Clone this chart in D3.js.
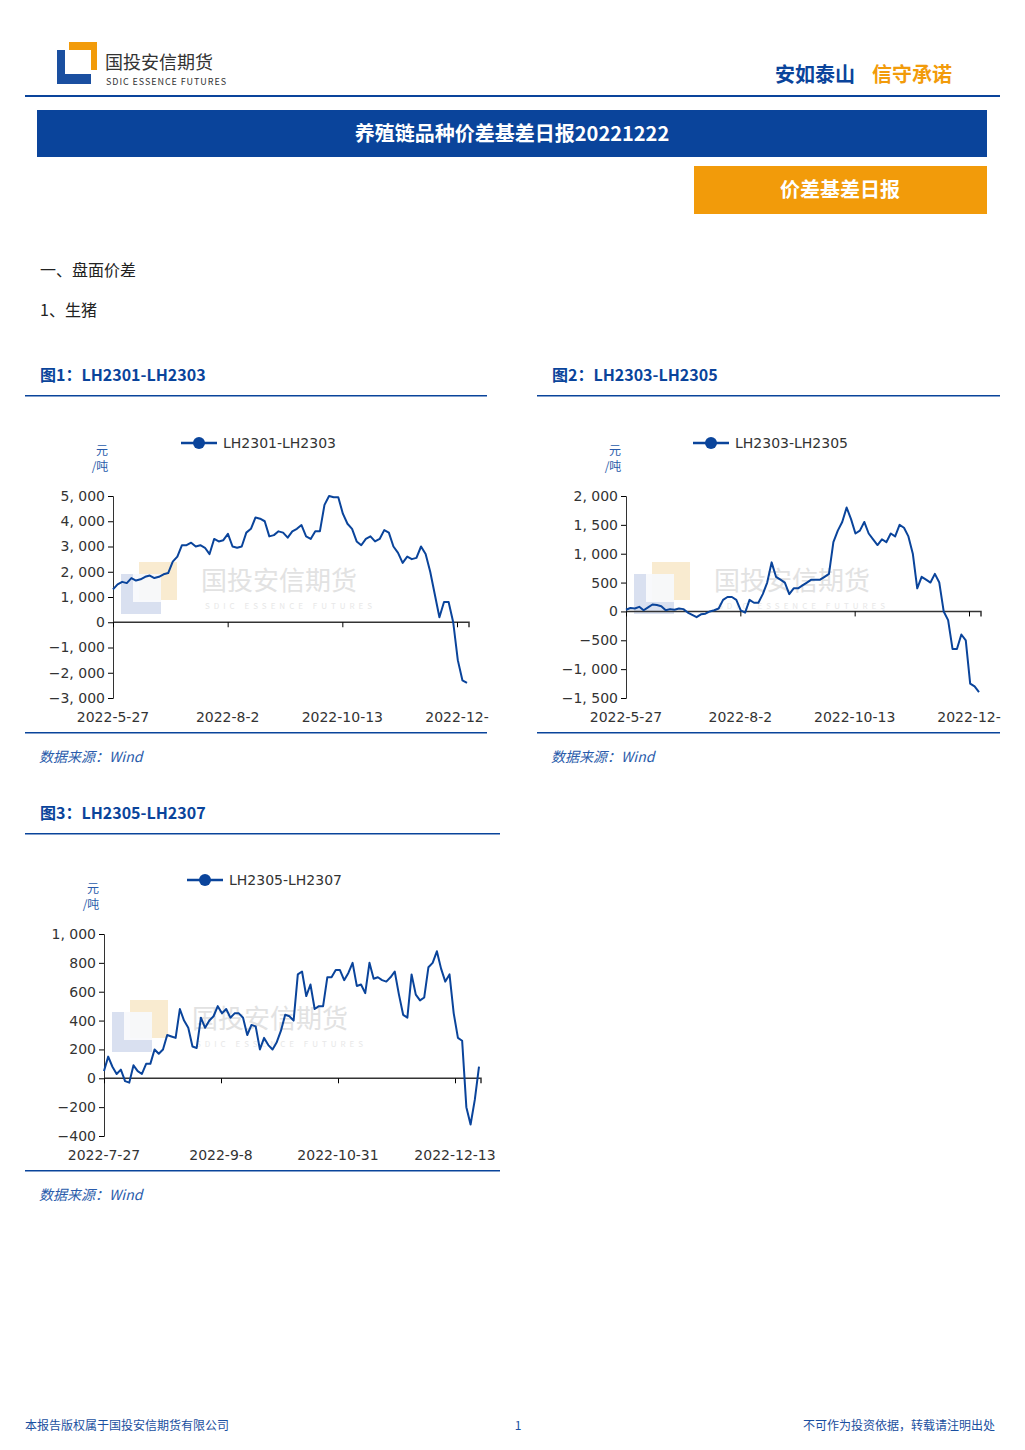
<!DOCTYPE html>
<html><head><meta charset="utf-8">
<script src="https://cdn.jsdelivr.net/npm/d3@7"></script>
<style>body{margin:0;background:#fff;font-family:"Noto Sans CJK SC","DejaVu Sans",sans-serif}</style>
</head><body><svg id="c" width="1025" height="1450"></svg>
<script>
const s1Name="LH2301-LH2303", s2Name="LH2303-LH2305", s3Name="LH2305-LH2307";
const s1Values=[1300,1500,1600,1550,1750,1650,1700,1800,1850,1750,1800,1900,1950,2400,2600,3050,3050,3150,3000,3050,2950,2700,3300,3200,3250,3500,3000,2950,3000,3550,3700,4150,4100,4000,3400,3450,3600,3550,3350,3600,3700,3850,3400,3300,3600,3600,4650,5000,4950,4950,4300,3900,3700,3200,3050,3300,3400,3200,3300,3650,3550,3000,2750,2350,2600,2500,2550,3000,2700,2000,1100,200,800,800,0,-1500,-2300,-2400];
const s2Values=[30,60,50,80,20,70,120,110,90,20,40,30,50,40,-20,-60,-100,-50,-40,0,20,50,200,250,250,200,20,-20,200,150,150,300,500,850,600,550,500,300,400,400,450,500,550,550,550,600,650,1200,1400,1550,1800,1600,1350,1400,1550,1350,1250,1150,1250,1200,1350,1300,1500,1450,1300,1000,400,600,550,500,650,500,0,-150,-650,-650,-400,-500,-1250,-1300,-1400];
const s3Values=[50,150,80,30,60,-20,-30,90,50,30,100,100,200,170,200,300,290,280,480,400,350,220,210,420,350,400,430,500,450,480,420,450,450,420,300,370,360,200,280,230,200,250,330,440,430,400,720,740,570,650,480,500,500,700,700,750,750,680,730,800,640,650,590,800,690,700,680,670,700,740,580,440,420,720,580,540,560,770,800,880,760,670,720,450,280,260,-200,-320,-150,80];
const dates12=["2022-5-27","2022-8-2","2022-10-13","2022-12-"];
const dates3=["2022-7-27","2022-9-8","2022-10-31","2022-12-13"];
const ticks1=[5000,4000,3000,2000,1000,0,-1000,-2000,-3000];
const ticks2=[2000,1500,1000,500,0,-500,-1000,-1500];
const ticks3=[1000,800,600,400,200,0,-200,-400];

const svg=d3.select("#c");
const BLUE="#0a449b", ORANGE="#f29b0a";
svg.append("rect").attr("x",57).attr("y",50).attr("width",34).attr("height",34).attr("fill","#1a4fa0");
svg.append("rect").attr("x",65).attr("y",50).attr("width",26).attr("height",24).attr("fill","#fff");
svg.append("rect").attr("x",69).attr("y",42).attr("width",28).attr("height",28).attr("fill",ORANGE);
svg.append("rect").attr("x",69).attr("y",50).attr("width",22).attr("height",20).attr("fill","#fff");
svg.append("text").attr("x",105).attr("y",69).attr("font-size",18).attr("fill","#333").text("国投安信期货");
svg.append("text").attr("x",106).attr("y",85).attr("font-size",9).attr("fill","#333").attr("textLength",120).text("SDIC ESSENCE FUTURES");
svg.append("text").attr("x",775).attr("y",82).attr("font-size",20).attr("font-weight","bold").attr("fill",BLUE).text("安如泰山");
svg.append("text").attr("x",872).attr("y",82).attr("font-size",20).attr("font-weight","bold").attr("fill",ORANGE).text("信守承诺");
svg.append("rect").attr("x",25).attr("y",95).attr("width",975).attr("height",2).attr("fill",BLUE);
svg.append("rect").attr("x",37).attr("y",110).attr("width",950).attr("height",47).attr("fill",BLUE);
svg.append("text").attr("x",512).attr("y",141).attr("text-anchor","middle").attr("font-size",20).attr("font-weight","bold").attr("fill","#fff").text("养殖链品种价差基差日报20221222");
svg.append("rect").attr("x",694).attr("y",166).attr("width",293).attr("height",48).attr("fill",ORANGE);
svg.append("text").attr("x",840).attr("y",197).attr("text-anchor","middle").attr("font-size",20).attr("font-weight","bold").attr("fill","#fff").text("价差基差日报");
svg.append("text").attr("x",40).attr("y",276).attr("font-size",16).attr("fill","#222").text("一、盘面价差");
svg.append("text").attr("x",40).attr("y",316).attr("font-size",16).attr("fill","#222").text("1、生猪");
svg.append("text").attr("x",25).attr("y",1430).attr("font-size",12).attr("fill","#1a4fa0").text("本报告版权属于国投安信期货有限公司");
svg.append("text").attr("x",518).attr("y",1430).attr("font-size",12).attr("fill","#1a4fa0").attr("text-anchor","middle").text("1");
svg.append("text").attr("x",995).attr("y",1430).attr("font-size",12).attr("fill","#1a4fa0").attr("text-anchor","end").text("不可作为投资依据，转载请注明出处");

const fmt=d3.format(",");
function chart(o){
  const g=svg.append("g");
  g.append("text").attr("x",o.x0+15).attr("y",o.titleY).attr("font-size",16).attr("font-weight","bold").attr("fill",BLUE).text(o.title);
  g.append("rect").attr("x",o.x0).attr("y",o.titleY+14).attr("width",o.w).attr("height",1.5).attr("fill",BLUE);
  g.append("rect").attr("x",o.x0).attr("y",o.bottomY).attr("width",o.w).attr("height",1.5).attr("fill",BLUE);
  g.append("text").attr("x",o.x0+14).attr("y",o.bottomY+30).attr("font-size",14).attr("font-style","italic").attr("fill","#2a5cab").text("数据来源：Wind");
  const wx=o.left+20, wy=o.wmY;
  g.append("rect").attr("x",wx+6).attr("y",wy-16).attr("width",38).attr("height",38).attr("fill","#f8e6c4").attr("opacity",0.8);
  g.append("rect").attr("x",wx-12).attr("y",wy-4).attr("width",40).attr("height",40).attr("fill","#c9d3ea").attr("opacity",0.7);
  g.append("rect").attr("x",wx).attr("y",wy-4).attr("width",28).attr("height",28).attr("fill","#fff").attr("opacity",0.8);
  g.append("text").attr("x",wx+68).attr("y",wy+12).attr("font-size",26).attr("fill","#e2e2e2").text("国投安信期货");
  g.append("text").attr("x",wx+72).attr("y",wy+31).attr("font-size",8).attr("fill","#e8e8e8").attr("letter-spacing",4).text("SDIC ESSENCE FUTURES");
  g.append("line").attr("x1",o.legX).attr("x2",o.legX+36).attr("y1",o.legY).attr("y2",o.legY).attr("stroke",BLUE).attr("stroke-width",2.5);
  g.append("circle").attr("cx",o.legX+18).attr("cy",o.legY).attr("r",6).attr("fill",BLUE);
  g.append("text").attr("x",o.legX+42).attr("y",o.legY+5).attr("font-size",14).attr("fill","#333").attr("font-family","DejaVu Sans").text(o.name);
  g.append("text").attr("x",o.left-11).attr("y",o.top-41).attr("font-size",12).attr("fill","#2a5cab").attr("text-anchor","middle").text("元");
  g.append("text").attr("x",o.left-13).attr("y",o.top-25).attr("font-size",12).attr("fill","#2a5cab").attr("text-anchor","middle").text("/吨");
  const y=d3.scaleLinear().domain(o.domain).range([o.bottom,o.top]);
  const x=d3.scaleLinear().domain([0,o.vals.length-1]).range([o.left,o.lineEnd]);
  const ya=g.append("g").attr("transform",`translate(${o.left},0)`).call(d3.axisLeft(y).tickValues(o.ticks).tickSize(5).tickFormat(d=>fmt(d).replace(",",", ").replace("-","−")));
  ya.select(".domain").attr("stroke","#333");
  ya.selectAll("text").attr("font-size",14).attr("fill","#333").attr("font-family","DejaVu Sans");
  const xs=d3.scalePoint().domain(o.dates).range([o.left,o.tickEnd]);
  const xa=g.append("g").attr("transform",`translate(0,${y(0)})`).call(d3.axisBottom(xs).tickSize(5).tickSizeOuter(0).tickFormat(""));
  xa.select(".domain").attr("d",`M${o.left},0H${o.right}V5`).attr("stroke","#333").attr("stroke-width",1.5);
  o.dates.forEach(d=>g.append("text").attr("x",xs(d)).attr("y",o.bottom+24).attr("font-size",14).attr("fill","#333").attr("text-anchor","middle").attr("font-family","DejaVu Sans").text(d));
  g.append("path").datum(o.vals).attr("fill","none").attr("stroke",BLUE).attr("stroke-width",2).attr("stroke-linejoin","round")
    .attr("d",d3.line().x((d,i)=>x(i)).y(d=>y(d)));
}
chart({title:"图1：LH2301-LH2303",name:s1Name,vals:s1Values,x0:25,w:462,titleY:381,bottomY:732,left:113,right:469,lineEnd:467,tickEnd:457,top:496,bottom:698,domain:[-3000,5000],ticks:ticks1,dates:dates12,legX:181,legY:443,wmY:578});
chart({title:"图2：LH2303-LH2305",name:s2Name,vals:s2Values,x0:537,w:463,titleY:381,bottomY:732,left:626,right:981,lineEnd:979,tickEnd:969,top:496,bottom:698,domain:[-1500,2000],ticks:ticks2,dates:dates12,legX:693,legY:443,wmY:578});
chart({title:"图3：LH2305-LH2307",name:s3Name,vals:s3Values,x0:25,w:475,titleY:819,bottomY:1170,left:104,right:481,lineEnd:479,tickEnd:455,top:934,bottom:1136,domain:[-400,1000],ticks:ticks3,dates:dates3,legX:187,legY:880,wmY:1016});
</script></body></html>
